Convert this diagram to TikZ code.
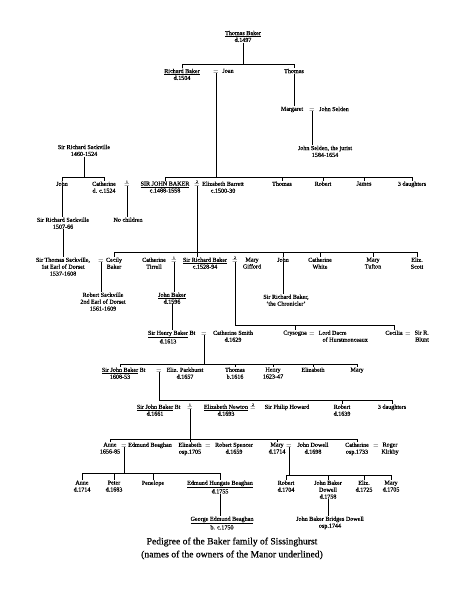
\documentclass[tikz,border=0pt]{standalone}
\usepackage{fontspec}
\setmainfont{Liberation Serif}[FakeBold=0.5]
\begin{document}
\begin{tikzpicture}[x=1pt,y=-1pt,
  per/.style={anchor=north,align=center,inner sep=0.4pt,font=\fontsize{6.1}{6.9}\selectfont},
  perl/.style={per,anchor=north west,align=left},
  perr/.style={per,anchor=north west,align=right},
  eqs/.style={anchor=base,inner sep=0pt,font=\fontsize{6.1}{6.9}\selectfont},
  num/.style={anchor=south,inner sep=0.3pt,font=\fontsize{3.6}{4}\selectfont},
  ln/.style={line width=0.6pt},
  captxt/.style={font=\fontsize{9.6}{11}\selectfont,inner sep=0pt}
]
\fill[white] (0,0) rectangle (468,600);
\useasboundingbox (0,0) rectangle (468,600);
% bar levels
\coordinate (b1) at (0,64);
\coordinate (b2) at (0,177);
\coordinate (b3) at (0,252);
\coordinate (b4) at (0,325);
\coordinate (b5) at (0,364);
\coordinate (b6) at (0,400);
\coordinate (b7) at (0,439);
\coordinate (b8) at (0,473);
\coordinate (b9) at (0,475);
% generation 1-2
\node[per] (tb) at (243,30.2) {\underline{Thomas Baker}\\d.1497};
\node[per] (rb) at (182,68.2) {\underline{Richard Baker}\\d.1504};
\node[eqs] (eq1) at (216,73) {$=$};
\node[per] (joan) at (228,68.2) {Joan};
\node[per] (th1) at (294,68.2) {Thomas};
\node[per] (mar) at (292,106.2) {Margaret};
\node[eqs] (eq2) at (312,111) {$=$};
\node[per] (jsel) at (334,106.2) {John Selden};
\node[per] (jsj) at (325,145.2) {John Selden, the jurist\\1584-1654};
% Sackville & Sir John Baker
\node[per] (srs1) at (84,144.2) {Sir Richard Sackville\\1460-1524};
\node[per] (john1) at (62,181) {John};
\node[per] (cath1) at (104,181) {Catherine\\d. c.1524};
\node[eqs] (eq4) at (127,186) {$=$};
\node[num] (n4) at (eq4.north) {1};
\node[per] (noch) at (128,217) {No children};
\node[per] (sjb) at (165,181) {\underline{SIR JOHN BAKER}\\c.1488-1558};
\node[eqs] (eq3) at (197,186) {$=$};
\node[num] (n3) at (eq3.north) {2};
\node[per] (eb) at (223,181) {Elizabeth Barrett\\c.1500-30};
\node[per] (th2) at (282,181) {Thomas};
\node[per] (rob1) at (323,181) {Robert};
\node[per] (jam) at (364,181) {James};
\node[per] (d3a) at (412,181) {3 daughters};
\node[per] (srs2) at (63,217) {Sir Richard Sackville\\1507-66};
% next generation
\node[per] (sts) at (63,257) {Sir Thomas Sackville,\\1st Earl of Dorset\\1537-1608};
\node[eqs] (eq5) at (101,262) {$=$};
\node[per] (cec) at (114,257) {Cecily\\Baker};
\node[per] (rsk) at (103,292) {Robert Sackville\\2nd Earl of Dorset\\1561-1609};
\node[per] (ct) at (154,257) {Catherine\\Tirrell};
\node[eqs] (eq6) at (174,262) {$=$};
\node[num] (n6) at (eq6.north) {1};
\node[per] (srb) at (205,257) {\underline{Sir Richard Baker}\\c.1528-94};
\node[eqs] (eq7) at (235,262) {$=$};
\node[num] (n7) at (eq7.north) {2};
\node[per] (mg) at (252,257) {Mary\\Gifford};
\node[per] (john2) at (283,257) {John};
\node[per] (cw) at (320,257) {Catherine\\White};
\node[per] (mt) at (373,257) {Mary\\Tufton};
\node[per] (es) at (417,257) {Eliz.\\Scott};
\node[per] (srbc) at (286,294) {Sir Richard Baker,\\‘the Chronicler’};
\node[per] (jb) at (172,292) {\underline{John Baker}\\d.1596};
\node[per] (shb) at (168,330) {\underline{Sir Henry Baker}\rlap{\ Bt}\\d.1613};
\node[eqs] (eq8) at (204,335) {$=$};
\node[per] (cs) at (233,330) {Catherine Smith\\d.1629};
\node[per] (cry) at (295,330) {Crysogna};
\node[eqs] (eq9) at (312,335) {$=$};
\node[perl] (ld) at (318,330) {Lord Dacre\\\hspace*{4pt}of Hurstmonceaux};
\node[per] (cec2) at (394,330) {Cecilia};
\node[eqs] (eq10) at (408,335) {$=$};
\node[perr] (blunt) at (414,330) {Sir R.\\Blunt};
% baronets
\node[per] (sjb2) at (120,367) {\underline{Sir John Baker}\rlap{\ Bt}\\1608-53};
\node[eqs] (eq11) at (159,372) {$=$};
\node[per] (ep) at (185,367) {Eliz. Parkhurst\\d.1657};
\node[per] (th3) at (235,367) {Thomas\\b.1616};
\node[per] (hen) at (273,367) {Henry\\1623-47};
\node[per] (el2) at (313,367) {Elizabeth};
\node[per] (ma2) at (357,367) {Mary};
\node[per] (sjb3) at (155,404) {\underline{Sir John Baker}\rlap{\ Bt}\\d.1661};
\node[eqs] (eq12) at (190,409) {$=$};
\node[num] (n12) at (eq12.north) {1};
\node[per] (en) at (226,404) {\underline{Elizabeth Newton}\\d.1693};
\node[eqs] (eq13) at (253,409) {$=$};
\node[num] (n13) at (eq13.north) {2};
\node[per] (sph) at (287,404) {Sir Philip Howard};
\node[per] (rob2) at (342,404) {Robert\\d.1639};
\node[per] (d3b) at (392,404) {3 daughters};
% daughters
\node[per] (an1) at (110,442) {Anne\\1656-85};
\node[eqs] (eq14) at (124,447) {$=$};
\node[per] (ebg) at (150,442) {Edmund Beaghan};
\node[per] (el3) at (190,442) {Elizabeth\\osp.1705};
\node[eqs] (eq15) at (208,447) {$=$};
\node[per] (rsp) at (234,442) {Robert Spencer\\d.1659};
\node[per] (ma3) at (277,442) {Mary\\d.1714};
\node[eqs] (eq16) at (289,447) {$=$};
\node[per] (jd) at (313,442) {John Dowell\\d.1698};
\node[per] (ca3) at (357,442) {Catherine\\osp.1733};
\node[eqs] (eq17) at (376,447) {$=$};
\node[per] (rk) at (390,442) {Roger\\Kirkby};
% grandchildren
\node[per] (an2) at (82,480) {Anne\\d.1714};
\node[per] (pet) at (114,480) {Peter\\d.1683};
\node[per] (pen) at (153,480) {Penelope};
\node[per] (ehb) at (220,480) {\underline{Edmund Hungate Beaghan}\\d.1755};
\node[per] (geb) at (222,516) {\underline{George Edmund Beaghan}\\b. c.1750};
\node[per] (rob3) at (286,480) {Robert\\d.1704};
\node[per] (jbd) at (328,480) {John Baker\\Dowell\\d.1758};
\node[per] (el4) at (364,480) {Eliz.\\d.1725};
\node[per] (ma4) at (391,480) {Mary\\d.1705};
\node[per] (jbbd) at (330,516) {John Baker Bridges Dowell\\osp.1744};
% caption
\node[captxt] (cap1) at (232,542) {Pedigree of the Baker family of Sissinghurst};
\node[captxt] (cap2) at (232,555) {(names of the owners of the Manor underlined)};
% ---------- connectors ----------
\begin{scope}[ln]
\draw (tb.south) -- (tb.south |- b1);
\draw (rb.north) -- (rb.north |- b1) -- (th1.north |- b1) -- (th1.north);
\draw (th1.south) -- (th1.south |- mar.north);
\draw (eq2.south) -- (eq2.south |- jsj.north);
\draw (eq1.south) -- (eq1.south |- b2);
\draw (sjb.north) -- (sjb.north |- b2) -- (d3a.north |- b2) -- (d3a.north);
\foreach \n in {th2,rob1,jam} \draw (\n.north |- b2) -- (\n.north);
\draw (srs1.south) -- (srs1.south |- b2);
\draw (john1.north) -- (john1.north |- b2) -- (cath1.north |- b2) -- (cath1.north);
\draw (eq4.south) -- (eq4.south |- noch.north);
\draw (john1.south) -- (john1.south |- srs2.north);
\draw (srs2.south) -- (srs2.south |- sts.north);
\draw (eq5.south) -- (eq5.south |- rsk.north);
\draw (eq3.south) -- (eq3.south |- srb.north);
\draw (cec.north) -- (cec.north |- b3) -- (es.north |- b3) -- (es.north);
\foreach \n in {john2,cw,mt} \draw (\n.north |- b3) -- (\n.north);
\draw (john2.south) -- (john2.south |- srbc.north);
\draw (eq6.south) -- (eq6.south |- jb.north);
\draw (jb.south) -- (jb.south |- shb.north);
\draw (eq7.south) -- (eq7.south |- b4) -- (cec2.north |- b4) -- (cec2.north);
\draw (cry.north |- b4) -- (cry.north);
\draw (eq8.south) -- (eq8.south |- b5);
\draw (sjb2.north) -- (sjb2.north |- b5) -- (ma2.north |- b5) -- (ma2.north);
\foreach \n in {th3,hen,el2} \draw (\n.north |- b5) -- (\n.north);
\draw (eq11.south) -- (eq11.south |- b6) -- (d3b.north |- b6) -- (d3b.north);
\draw (rob2.north |- b6) -- (rob2.north);
\draw (eq12.south) -- (eq12.south |- b7);
\draw (an1.north) -- (an1.north |- b7) -- (ca3.north |- b7) -- (ca3.north);
\foreach \n in {el3,ma3} \draw (\n.north |- b7) -- (\n.north);
\draw (eq14.south) -- (eq14.south |- b8);
\draw (an2.north) -- (an2.north |- b8) -- (ehb.north |- b8) -- (ehb.north);
\foreach \n in {pet,pen} \draw (\n.north |- b8) -- (\n.north);
\draw (ehb.south) -- (ehb.south |- geb.north);
\draw (eq16.south) -- (eq16.south |- b9);
\draw (rob3.north) -- (rob3.north |- b9) -- (ma4.north |- b9) -- (ma4.north);
\foreach \n in {jbd,el4} \draw (\n.north |- b9) -- (\n.north);
\draw (jbd.south) -- (jbd.south |- jbbd.north);
\end{scope}
\end{tikzpicture}
\end{document}
